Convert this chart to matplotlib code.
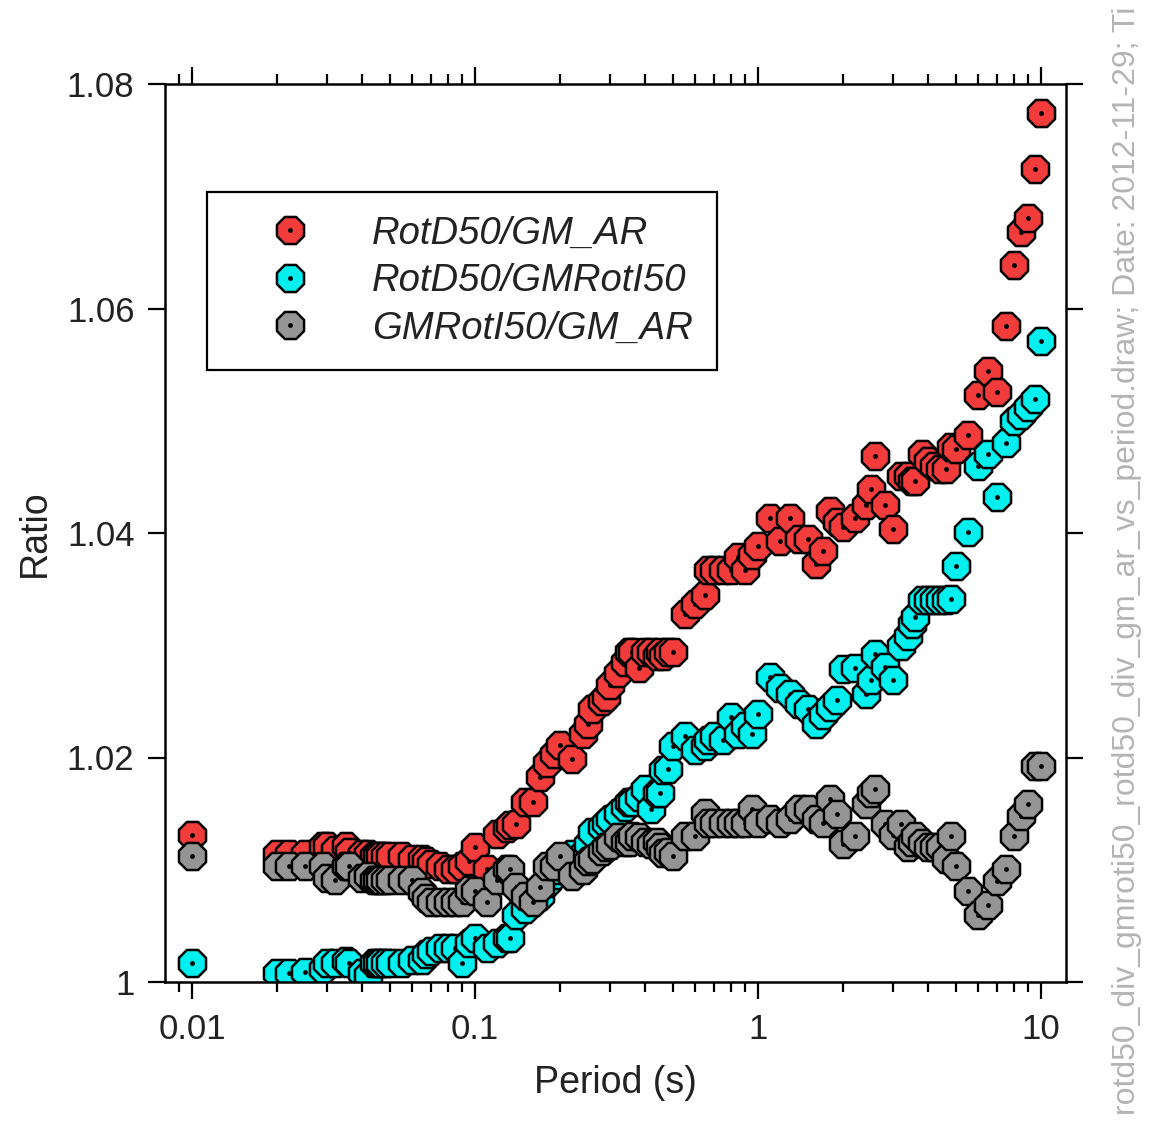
import numpy as np
import matplotlib
matplotlib.use('Agg')
import matplotlib.pyplot as plt
from matplotlib.path import Path
from matplotlib.ticker import LogLocator, NullLocator, FixedLocator, FixedFormatter, NullFormatter

# ---------------- data ----------------
periods = [0.01, 0.02, 0.022, 0.025, 0.029, 0.03, 0.032, 0.035, 0.036, 0.04,
           0.042, 0.044, 0.045, 0.046, 0.048, 0.05, 0.055, 0.06, 0.065, 0.067,
           0.07, 0.075, 0.08, 0.085, 0.09, 0.095, 0.1, 0.11, 0.12, 0.13,
           0.133, 0.14, 0.15, 0.16, 0.17, 0.18, 0.19, 0.2, 0.22, 0.24,
           0.25, 0.26, 0.28, 0.29, 0.3, 0.32, 0.34, 0.35, 0.36, 0.38,
           0.4, 0.42, 0.44, 0.45, 0.46, 0.48, 0.5, 0.55, 0.6, 0.65,
           0.667, 0.7, 0.75, 0.8, 0.85, 0.9, 0.95, 1.0, 1.1, 1.2,
           1.3, 1.4, 1.5, 1.6, 1.7, 1.8, 1.9, 2.0, 2.2, 2.4,
           2.5, 2.6, 2.8, 3.0, 3.2, 3.4, 3.5, 3.6, 3.8, 4.0,
           4.2, 4.4, 4.6, 4.8, 5.0, 5.5, 6.0, 6.5, 7.0, 7.5,
           8.0, 8.5, 9.0, 9.5, 10.0]

rotd50_gm_ar = [1.0131, 1.0114, 1.0114, 1.0114, 1.0121, 1.0121, 1.0118, 1.0121, 1.0116, 1.0114,
                1.0114, 1.0112, 1.0112, 1.0112, 1.0112, 1.0112, 1.0112, 1.0110, 1.0110, 1.0108,
                1.0105, 1.0103, 1.0101, 1.0101, 1.0103, 1.0108, 1.0120, 1.0101, 1.0132, 1.0137,
                1.0140, 1.0141, 1.0160, 1.0160, 1.0183, 1.0195, 1.0203, 1.0211, 1.0199, 1.0221,
                1.0230, 1.0243, 1.0250, 1.0254, 1.0265, 1.0275, 1.0285, 1.0294, 1.0294, 1.0280,
                1.0294, 1.0294, 1.0290, 1.0294, 1.0290, 1.0294, 1.0294, 1.0328, 1.0337, 1.0345,
                1.0367, 1.0367, 1.0367, 1.0367, 1.0379, 1.0367, 1.0380, 1.0388, 1.0413, 1.0393,
                1.0413, 1.0395, 1.0395, 1.0372, 1.0384, 1.0420, 1.0410, 1.0405, 1.0413, 1.0425,
                1.0439, 1.0469, 1.0425, 1.0404, 1.0451, 1.0451, 1.0446, 1.0446, 1.0470, 1.0464,
                1.0460, 1.0457, 1.0457, 1.0477, 1.0475, 1.0487, 1.0523, 1.0544, 1.0526, 1.0584,
                1.0639, 1.0668, 1.0681, 1.0724, 1.0774]

rotd50_gmroti50 = [1.0017, 1.0008, 1.0008, 1.0009, 1.0012, 1.0017, 1.0017, 1.0019, 1.0017, 1.0008,
                   1.0006, 1.0017, 1.0017, 1.0017, 1.0017, 1.0017, 1.0017, 1.0020, 1.0020, 1.0025,
                   1.0028, 1.0030, 1.0030, 1.0030, 1.0017, 1.0035, 1.0039, 1.0030, 1.0035, 1.0039,
                   1.0039, 1.0060, 1.0065, 1.0075, 1.0077, 1.0088, 1.0095, 1.0100, 1.0114, 1.0114,
                   1.0123, 1.0134, 1.0138, 1.0142, 1.0145, 1.0151, 1.0156, 1.0160, 1.0160, 1.0165,
                   1.0172, 1.0154, 1.0168, 1.0168, 1.0189, 1.0190, 1.0210, 1.0219, 1.0207, 1.0210,
                   1.0216, 1.0219, 1.0216, 1.0236, 1.0221, 1.0228, 1.0221, 1.0239, 1.0272, 1.0262,
                   1.0257, 1.0248, 1.0243, 1.0230, 1.0238, 1.0245, 1.0251, 1.0279, 1.0280, 1.0257,
                   1.0269, 1.0292, 1.0281, 1.0269, 1.0299, 1.0308, 1.0319, 1.0325, 1.0340, 1.0340,
                   1.0340, 1.0340, 1.0340, 1.0341, 1.0371, 1.0401, 1.0460, 1.0470, 1.0432, 1.0480,
                   1.0500, 1.0505, 1.0512, 1.0519, 1.0571]

gmroti50_gm_ar = [1.0112, 1.0103, 1.0103, 1.0103, 1.0103, 1.0093, 1.0091, 1.0103, 1.0103, 1.0093,
                  1.0094, 1.0091, 1.0091, 1.0091, 1.0091, 1.0091, 1.0091, 1.0091, 1.0080, 1.0075,
                  1.0071, 1.0071, 1.0071, 1.0071, 1.0071, 1.0082, 1.0081, 1.0071, 1.0091, 1.0101,
                  1.0101, 1.0085, 1.0077, 1.0071, 1.0085, 1.0103, 1.0103, 1.0112, 1.0094, 1.0100,
                  1.0108, 1.0110, 1.0117, 1.0120, 1.0122, 1.0129, 1.0125, 1.0125, 1.0130, 1.0129,
                  1.0125, 1.0123, 1.0125, 1.0120, 1.0115, 1.0116, 1.0112, 1.0130, 1.0130, 1.0151,
                  1.0142, 1.0142, 1.0142, 1.0142, 1.0142, 1.0142, 1.0154, 1.0142, 1.0145, 1.0142,
                  1.0145, 1.0154, 1.0154, 1.0145, 1.0142, 1.0163, 1.0150, 1.0123, 1.0130, 1.0159,
                  1.0168, 1.0172, 1.0141, 1.0131, 1.0141, 1.0120, 1.0125, 1.0130, 1.0124, 1.0120,
                  1.0120, 1.0120, 1.0110, 1.0130, 1.0103, 1.0081, 1.0060, 1.0069, 1.0090, 1.0101,
                  1.0130, 1.0148, 1.0159, 1.0192, 1.0192]

series_labels = ['RotD50/GM_AR', 'RotD50/GMRotI50', 'GMRotI50/GM_AR']
series_colors = ['#F23C3C', '#00F0F0', '#959595']

x_ticks = [0.01, 0.1, 1, 10]
x_tick_labels = ['0.01', '0.1', '1', '10']
y_ticks = [1.0, 1.02, 1.04, 1.06, 1.08]
y_tick_labels = ['1', '1.02', '1.04', '1.06', '1.08']

x_label = 'Period (s)'
y_label = 'Ratio'
side_note = 'rotd50_div_gmroti50_rotd50_div_gm_ar_vs_period.draw; Date: 2012-11-29; Ti'

# ---------------- style ----------------
FONT = ['Liberation Sans', 'DejaVu Sans']
plt.rcParams['font.family'] = FONT

# octagon marker with a small dot in the centre
theta = np.deg2rad(np.arange(8) * 45 + 22.5)
oct_verts = np.column_stack([np.cos(theta), np.sin(theta)])
outer = Path(np.vstack([oct_verts, oct_verts[:1]]), closed=True)
inner = Path.circle((0, 0), 0.08)
marker_path = Path.make_compound_path(outer, inner)

fig = plt.figure(figsize=(11.51, 11.22), dpi=100)
ax = fig.add_axes([165 / 1151, 1 - 982 / 1122, (1066 - 165) / 1151, (982 - 84) / 1122])

for vals, col, lab in zip([rotd50_gm_ar, rotd50_gmroti50, gmroti50_gm_ar],
                          series_colors, series_labels):
    ax.plot(periods, vals, linestyle='none', marker=marker_path, markersize=19.5,
            markerfacecolor=col, markeredgecolor='black', markeredgewidth=1.8,
            label=lab)

ax.set_xscale('log')
ax.set_xlim(0.00803, 12.25)
ax.set_ylim(1.0, 1.08)

ax.xaxis.set_major_locator(FixedLocator(x_ticks))
ax.xaxis.set_major_formatter(FixedFormatter(x_tick_labels))
ax.xaxis.set_minor_locator(LogLocator(base=10, subs=np.arange(2, 10)))
ax.xaxis.set_minor_formatter(NullFormatter())
ax.yaxis.set_major_locator(FixedLocator(y_ticks))
ax.yaxis.set_major_formatter(FixedFormatter(y_tick_labels))
ax.yaxis.set_minor_locator(NullLocator())

ax.tick_params(which='both', direction='out', top=True, right=True,
               labeltop=False, labelright=False, colors='black',
               labelcolor='#222222')
ax.tick_params(which='major', length=12, width=1.6, labelsize=25)
ax.tick_params(which='minor', length=7, width=1.6)
ax.tick_params(axis='x', which='major', pad=10)
ax.tick_params(axis='y', which='major', pad=10)
for sp in ax.spines.values():
    sp.set_linewidth(1.8)

ax.set_xlabel(x_label, fontsize=27, color='#222222', labelpad=14)
ax.set_ylabel(y_label, fontsize=27, color='#222222', labelpad=10)

leg = ax.legend(loc='upper left', bbox_to_anchor=(42 / 901, (982 - 192) / 898),
                borderaxespad=0, frameon=True, fancybox=False, edgecolor='black',
                framealpha=1, prop=dict(family=FONT, style='italic', size=27.5),
                handlelength=3.1, handletextpad=0.6, borderpad=0.62,
                labelspacing=0.30, numpoints=1)
leg.get_frame().set_linewidth(1.6)
for t in leg.get_texts():
    t.set_color('#222222')

fig.text(1127 / 1151, 0.5, side_note, rotation=90, ha='center', va='center',
         fontsize=23, color='#B4B4B4')

fig.savefig('out.png', dpi=100)
